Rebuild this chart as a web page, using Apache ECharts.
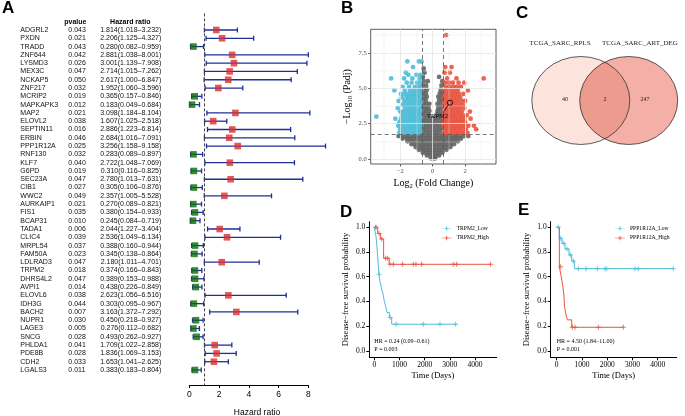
<!DOCTYPE html>
<html><head><meta charset="utf-8">
<script src="https://cdn.jsdelivr.net/npm/echarts@6.0.0/dist/echarts.min.js"></script>
<style>html,body{margin:0;padding:0;background:#fff}#c{width:685px;height:416px}</style>
</head><body><div id="c"></div>
<script>
// ---------- Panel A: forest plot data ----------
const forestGenes = ['ADGRL2','PXDN','TRADD','ZNF644','LYSMD3','MEX3C','NCKAP5','ZNF217','MCRIP2','MAPKAPK3','MAP2','ELOVL2','SEPTIN11','ERBIN','PPP1R12A','RNF130','KLF7','G6PD','SEC23A','CIB1','WWC2','AURKAIP1','FIS1','BCAP31','TADA1','CLIC4','MRPL54','FAM50A','LDLRAD3','TRPM2','DHRS4L2','AVPI1','ELOVL6','IDH3G','BACH2','NUPR1','LAGE3','SNCG','PHLDA1','PDE8B','CDH2','LGALS3'];
const forestP = [0.043,0.021,0.043,0.042,0.026,0.047,0.050,0.032,0.019,0.012,0.021,0.038,0.016,0.046,0.025,0.032,0.040,0.019,0.047,0.027,0.049,0.021,0.035,0.010,0.006,0.039,0.037,0.023,0.047,0.018,0.047,0.014,0.038,0.044,0.007,0.030,0.005,0.028,0.041,0.028,0.033,0.011];
const forestHR = [1.814,2.206,0.280,2.881,3.001,2.714,2.617,1.952,0.365,0.183,3.098,1.607,2.886,2.684,3.256,0.283,2.722,0.310,2.780,0.305,2.357,0.270,0.380,0.245,2.044,2.536,0.388,0.345,2.180,0.374,0.389,0.438,2.623,0.303,3.163,0.450,0.276,0.493,1.709,1.836,1.653,0.383];
const forestLo = [1.018,1.125,0.082,1.038,1.139,1.015,1.000,1.060,0.157,0.049,1.184,1.025,1.223,1.016,1.158,0.089,1.048,0.116,1.013,0.106,1.005,0.089,0.154,0.084,1.227,1.049,0.160,0.138,1.011,0.166,0.153,0.226,1.056,0.095,1.372,0.218,0.112,0.262,1.022,1.069,1.041,0.183];
const forestHi = [3.232,4.327,0.959,8.001,7.908,7.262,6.847,3.596,0.846,0.684,8.104,2.518,6.814,7.091,9.158,0.897,7.069,0.825,7.631,0.876,5.528,0.821,0.933,0.719,3.404,6.134,0.944,0.864,4.701,0.843,0.988,0.849,6.516,0.967,7.292,0.927,0.682,0.927,2.858,3.153,2.625,0.804];
const forestTicks = [0,2,4,6,8];
const forestRef = 1;

// ---------- Panel B: volcano data (rows: [-log10 padj, [log2FC ...]]) ----------
const greyRows = [
 [0.05,[-0.1,0.05,0.15]],
 [0.25,[-0.35,-0.15,0.05,0.25,0.4]],
 [0.45,[-0.6,-0.4,-0.2,0.0,0.2,0.4,0.6]],
 [0.65,[-0.85,-0.62,-0.4,-0.2,0.0,0.2,0.4,0.62,0.85]],
 [0.85,[-1.05,-0.82,-0.6,-0.38,-0.16,0.06,0.28,0.5,0.72,0.95,1.1]],
 [1.05,[-1.3,-1.08,-0.86,-0.64,-0.42,-0.2,0.02,0.24,0.46,0.68,0.9,1.12,1.32]],
 [1.25,[-1.55,-1.32,-1.1,-0.88,-0.66,-0.44,-0.22,0.0,0.22,0.44,0.66,0.88,1.1,1.32,1.55]],
 [1.45,[-1.85,-1.6,-1.38,-1.15,-0.92,-0.7,-0.48,-0.26,-0.04,0.18,0.4,0.62,0.84,1.06,1.28,1.5,1.75]],
 [1.62,[-2.1,-1.85,-1.62,-1.4,-1.18,-0.96,-0.74,-0.52,-0.3,-0.08,0.14,0.36,0.58,0.8,1.02,1.24,1.46,1.7,1.95,2.2]],
 [1.9,[-0.55,-0.35,-0.15,0.05,0.25,0.45]],
 [2.15,[-0.6,-0.4,-0.2,0.0,0.2,0.4,0.58]],
 [2.4,[-0.55,-0.35,-0.15,0.05,0.25,0.45]],
 [2.65,[-0.6,-0.4,-0.2,0.0,0.2,0.4,0.6]],
 [2.9,[-0.55,-0.35,-0.15,0.1,0.3,0.5]],
 [3.15,[-0.6,-0.42,-0.24,0.25,0.42,0.6]],
 [3.4,[-0.55,-0.38,-0.2,0.3,0.48]],
 [3.65,[-0.6,-0.42,-0.25,0.35,0.55]],
 [3.9,[-0.55,-0.38,-0.2,0.3,0.5]],
 [4.15,[-0.6,-0.42,0.4,0.6]],
 [4.4,[-0.55,-0.36,0.35,0.55]],
 [4.65,[-0.6,-0.42,0.45,0.6]],
 [4.9,[-0.55,-0.35,0.5]],
 [5.2,[-0.6,-0.4,0.55]],
 [5.5,[-0.55,-0.3,0.6]],
 [5.8,[-0.6,0.4]],
 [6.1,[-0.5]],
 [6.4,[-0.55]]
];
const blueRows = [
 [1.85,[-2.05,-1.85,-1.65,-1.45,-1.3,-1.15,-1.0,-0.85,-0.72]],
 [2.1,[-2.0,-1.78,-1.6,-1.42,-1.25,-1.08,-0.92,-0.78]],
 [2.35,[-2.12,-1.9,-1.7,-1.5,-1.35,-1.18,-1.02,-0.86,-0.7]],
 [2.6,[-2.05,-1.82,-1.62,-1.45,-1.28,-1.12,-0.95,-0.8]],
 [2.85,[-2.3,-1.95,-1.75,-1.55,-1.38,-1.2,-1.05,-0.9,-0.72]],
 [2.99,[-3.47]],
 [3.1,[-1.88,-1.68,-1.48,-1.3,-1.15,-0.98,-0.82]],
 [3.35,[-2.0,-1.8,-1.6,-1.42,-1.25,-1.08,-0.9,-0.74]],
 [3.6,[-2.15,-1.72,-1.52,-1.35,-1.18,-1.0,-0.84]],
 [3.85,[-1.85,-1.65,-1.45,-1.28,-1.1,-0.93,-0.76]],
 [4.1,[-2.1,-1.75,-1.55,-1.38,-1.2,-1.02,-0.86,-0.7]],
 [4.35,[-1.9,-1.62,-1.45,-1.3,-1.12,-0.95,-0.78]],
 [4.6,[-1.95,-1.7,-1.5,-1.33,-1.15,-0.98,-0.8]],
 [4.85,[-2.36,-1.72,-1.4,-1.2,-1.0,-0.82,-0.7]],
 [5.1,[-1.85,-1.45,-1.1,-0.9,-0.74]],
 [5.4,[-1.6,-1.3,-0.95,-0.78]],
 [5.7,[-2.56,-1.76,-1.25,-0.8]],
 [5.95,[-1.5,-1.0,-0.75]],
 [6.1,[-1.65]],
 [6.5,[-1.21]],
 [6.9,[-1.56,-0.85,-0.68]]
];
const redRows = [
 [1.85,[0.72,0.88,1.05,1.22,1.4,1.58,1.76,1.95,2.15]],
 [2.1,[0.78,0.95,1.12,1.3,1.48,1.66,1.85,2.05,2.69]],
 [2.35,[0.7,0.86,1.02,1.2,1.38,1.56,1.74,1.92,2.2,2.55]],
 [2.6,[0.76,0.93,1.1,1.28,1.46,1.64,1.82,2.0]],
 [2.85,[0.7,0.86,1.04,1.22,1.4,1.58,1.76,1.95,2.34]],
 [3.1,[0.78,0.95,1.12,1.3,1.48,1.66,1.85,2.1]],
 [3.35,[0.72,0.88,1.06,1.24,1.42,1.6,1.8,2.3]],
 [3.6,[0.8,0.97,1.15,1.33,1.52,1.72,1.95]],
 [3.85,[0.72,0.9,1.08,1.26,1.45,1.65,1.85]],
 [4.1,[0.8,0.98,1.16,1.35,1.55,1.78,2.0]],
 [4.35,[0.72,0.9,1.1,1.3,1.5,1.7]],
 [4.6,[0.8,1.0,1.2,1.4,1.62,1.9]],
 [4.85,[0.72,0.92,1.12,1.35,1.55,2.18]],
 [5.1,[0.82,1.05,1.28,1.5,1.75]],
 [5.4,[0.75,1.0,1.25,1.6,1.95]],
 [5.7,[0.9,1.47,3.15]],
 [6.1,[0.73,1.07]],
 [6.5,[0.78,1.17]],
 [8.76,[0.83]]
];
const volcanoLabelPoint = [1.07, 3.98];
const volcanoLabel = 'TRPM2';
const volcanoCutX = [-0.65, 0.65];
const volcanoCutY = [1.75];
const volcanoXTicks = [-2, 0, 2];
const volcanoYTicks = [0, 2.5, 5, 7.5];
const volcanoXMinor = [-3, -1, 1, 3];
const volcanoYMinor = [1.25, 3.75, 6.25, 8.75];

// ---------- Panel C: Venn ----------
const vennSets = ['TCGA_SARC_RPLS', 'TCGA_SARC_ART_DEG'];
const vennCounts = [40, 2, 247];

// ---------- Panel D: KM TRPM2 ----------
const kmDLow = [[0,1],[70,0.92],[100,0.85],[130,0.77],[160,0.69],[187,0.62],[226,0.56],[292,0.5],[358,0.45],[397,0.4],[464,0.35],[504,0.31],[597,0.27],[689,0.215],[3270,0.215]];
const kmDLowCens = [[50,1],[190,0.62],[630,0.27],[862,0.215],[1945,0.215],[2607,0.215],[3230,0.215]];
const kmDHigh = [[0,1],[135,0.95],[240,0.905],[370,0.75],[590,0.7],[4620,0.7]];
const kmDHighCens = [[70,1],[187,0.95],[292,0.905],[450,0.75],[530,0.75],[623,0.7],[755,0.7],[1126,0.7],[1550,0.7],[1656,0.7],[1880,0.7],[3135,0.7],[3270,0.7],[4620,0.7]];
const kmDNames = ['TRPM2_Low', 'TRPM2_High'];
const kmDStats = ['HR = 0.24 (0.09\u22120.61)', 'P = 0.003'];

// ---------- Panel E: KM PPP1R12A ----------
const kmELow = [[0,1],[104,0.911],[210,0.87],[330,0.824],[488,0.776],[594,0.727],[700,0.665],[4618,0.665]];
const kmELowCens = [[66,1],[157,0.911],[277,0.87],[409,0.824],[541,0.776],[660,0.727],[857,0.665],[1162,0.665],[1610,0.665],[1913,0.665],[1980,0.665],[3101,0.665],[3233,0.665],[4618,0.665]];
const kmEHigh = [[0,1],[104,0.68],[180,0.6],[224,0.546],[264,0.49],[290,0.44],[304,0.37],[356,0.3],[422,0.25],[594,0.19],[2640,0.19]];
const kmEHighCens = [[157,0.68],[620,0.19],[726,0.19],[1649,0.19],[2640,0.19]];
const kmENames = ['PPP1R12A_Low', 'PPP1R12A_High'];
const kmEStats = ['HR = 4.50 (1.84\u221211.00)', 'P = 0.001'];
const kmXTicks = [0, 1000, 2000, 3000, 4000];
const kmYTicks = [0, 0.2, 0.4, 0.6, 0.8, 1.0];

// ================= build =================
const sans = 'Liberation Sans', serif = 'Liberation Serif';
const cyan = '#4EBCD8', red = '#E9533F';
const navy = '#1F2F98', sqRed = '#DA2E2E', sqGreen = '#0B6B0B';
const rowsToPoints = rows => { const o = []; rows.forEach(r => r[1].forEach(x => o.push([x, r[0]]))); return o; };
const minus = v => (v < 0 ? '\u2212' + (-v) : String(v));
const plusIcon = 'path://M0,4.6H20V5.4H0Z M9.2,0.5H10.8V9.5H9.2Z M6.5,4.2H13.5V5.8H6.5Z';
const plusSym = 'path://M4,0H6V4H10V6H6V10H4V6H0V4H4Z';

const chart = echarts.init(document.getElementById('c'));

function kmX(grid, min, max) {
  return {gridIndex: grid, type: 'value', min: min, max: max,
    axisLine: {onZero: false, lineStyle: {color: '#000', width: 1}},
    axisTick: {length: 3, customValues: kmXTicks, lineStyle: {color: '#000', width: 1}},
    axisLabel: {customValues: kmXTicks, formatter: v => String(v), fontFamily: serif, fontSize: 7.5, color: '#000', margin: 4},
    splitLine: {show: false},
    name: 'Time (Days)', nameLocation: 'middle', nameGap: 14,
    nameTextStyle: {fontFamily: serif, fontSize: 8.5, color: '#000'}};
}
function kmY(grid) {
  return {gridIndex: grid, type: 'value', min: -0.053, max: 1.045,
    axisLine: {onZero: false, lineStyle: {color: '#000', width: 1}},
    axisTick: {length: 3, customValues: kmYTicks, lineStyle: {color: '#000', width: 1}},
    axisLabel: {customValues: kmYTicks, formatter: v => v.toFixed(1), fontFamily: serif, fontSize: 7.5, color: '#000', margin: 4},
    splitLine: {show: false},
    name: 'Disease\u2212free survival probability', nameLocation: 'middle', nameGap: 19, nameRotate: 90,
    nameTextStyle: {fontFamily: serif, fontSize: 8.5, color: '#000'}};
}
function kmSeries(ax, name, data, cens, color) {
  return [
    {type: 'line', name: name, xAxisIndex: ax, yAxisIndex: ax, data: data, step: 'end', symbol: 'none',
      lineStyle: {color: color, width: 1}, itemStyle: {color: color}, z: 3},
    {type: 'scatter', name: name + '_cens', xAxisIndex: ax, yAxisIndex: ax, data: cens, symbol: plusSym,
      symbolSize: 5, itemStyle: {color: color}, z: 4}
  ];
}
const legendBase = {orient: 'vertical', top: 225.6, itemWidth: 10, itemHeight: 5, itemGap: 3.4, padding: 0,
  selectedMode: false, icon: plusIcon, textStyle: {fontFamily: serif, fontSize: 5.6, color: '#000'}};

const gridLineData = [].concat(
  volcanoXTicks.map(v => ({xAxis: v, lineStyle: {width: 0.8}})),
  volcanoXMinor.map(v => ({xAxis: v, lineStyle: {width: 0.4}})),
  volcanoYTicks.map(v => ({yAxis: v, lineStyle: {width: 0.8}})),
  volcanoYMinor.map(v => ({yAxis: v, lineStyle: {width: 0.4}}))
);

const option = {
  animation: false,
  backgroundColor: '#fff',
  title: [
    {text: 'A', left: 2, top: 0}, {text: 'B', left: 341, top: 0}, {text: 'C', left: 516, top: 5},
    {text: 'D', left: 340, top: 203.5}, {text: 'E', left: 518, top: 202}
  ].map(t => Object.assign(t, {padding: 0, textStyle: {fontFamily: sans, fontWeight: 'bold', fontSize: 17, color: '#000'}})),
  legend: [
    Object.assign({}, legendBase, {data: kmDNames, left: 441.7}),
    Object.assign({}, legendBase, {data: kmENames, left: 615})
  ],
  grid: [
    {left: 189.3, right: 376.7, top: 13.4, bottom: 31},
    {left: 370.7, right: 189, top: 29.3, bottom: 252, show: true, borderColor: '#333', borderWidth: 0.8, backgroundColor: 'transparent'},
    {left: 510, top: 0, width: 175, height: 150},
    {left: 369.3, right: 188.3, top: 221.7, bottom: 58.7},
    {left: 550.7, right: 8.3, top: 221.7, bottom: 58.7}
  ],
  xAxis: [
    {gridIndex: 0, type: 'value', min: 0, max: 8, interval: 2,
      axisLine: {onZero: false, lineStyle: {color: '#000', width: 1}},
      axisTick: {length: 3, lineStyle: {color: '#000', width: 1}},
      axisLabel: {fontFamily: sans, fontSize: 8.5, color: '#000', margin: 5},
      splitLine: {show: false}},
    {gridIndex: 1, type: 'value', min: -3.82, max: 3.91,
      axisLine: {show: false, onZero: false},
      axisTick: {show: true, length: 2.5, customValues: volcanoXTicks, lineStyle: {color: '#333', width: 0.8}},
      axisLabel: {customValues: volcanoXTicks, formatter: minus, fontFamily: serif, fontSize: 6.5, color: '#4d4d4d', margin: 4},
      splitLine: {show: false},
      name: '{n|Log}{s|2}{n| (Fold Change)}', nameLocation: 'middle', nameGap: 13,
      nameTextStyle: {rich: {n: {fontFamily: serif, fontSize: 10, color: '#000', lineHeight: 13, verticalAlign: 'middle'},
                             s: {fontFamily: serif, fontSize: 6.5, color: '#000', verticalAlign: 'bottom'}}}},
    {gridIndex: 2, type: 'value', min: 0, max: 175, show: false},
    kmX(3, -199, 4861),
    kmX(4, -238, 4752)
  ],
  yAxis: [
    {gridIndex: 0, type: 'value', inverse: true, min: -2, max: 42.81, interval: 1,
      axisLine: {show: false, onZero: false}, axisTick: {show: false}, splitLine: {show: false},
      axisLabel: {margin: 28,
        formatter: v => {
          const i = Math.round(v);
          if (Math.abs(v - i) > 1e-6) return '';
          if (i === -1) return '{gh| }{ph|pvalue}{hh|Hazard ratio}';
          if (i < 0 || i >= forestGenes.length) return '';
          return '{g|' + forestGenes[i] + '}{p|' + forestP[i].toFixed(3) + '}{h|' +
            forestHR[i].toFixed(3) + '(' + forestLo[i].toFixed(3) + '\u2013' + forestHi[i].toFixed(3) + ')}';
        },
        rich: {
          g: {width: 48, align: 'left', fontFamily: sans, fontSize: 7, color: '#111'},
          p: {width: 31, align: 'left', fontFamily: sans, fontSize: 7, color: '#111'},
          h: {width: 62, align: 'right', fontFamily: sans, fontSize: 7, color: '#111'},
          gh: {width: 44, align: 'left', fontFamily: sans, fontSize: 7},
          ph: {width: 35, align: 'left', fontFamily: sans, fontSize: 7, fontWeight: 'bold', color: '#000'},
          hh: {width: 62, align: 'center', fontFamily: sans, fontSize: 7, fontWeight: 'bold', color: '#000'}
        }}},
    {gridIndex: 1, type: 'value', min: -0.353, max: 9.17,
      axisLine: {show: false, onZero: false},
      axisTick: {show: true, length: 2.5, customValues: volcanoYTicks, lineStyle: {color: '#333', width: 0.8}},
      axisLabel: {customValues: volcanoYTicks, formatter: v => v.toFixed(1), fontFamily: serif, fontSize: 6.5, color: '#4d4d4d', margin: 4},
      splitLine: {show: false},
      name: '{n|\u2212Log}{s|10}{n| (Padj)}', nameLocation: 'middle', nameGap: 17, nameRotate: 90,
      nameTextStyle: {rich: {n: {fontFamily: serif, fontSize: 10, color: '#000', lineHeight: 13, verticalAlign: 'middle'},
                             s: {fontFamily: serif, fontSize: 6.5, color: '#000', verticalAlign: 'bottom'}}}},
    {gridIndex: 2, type: 'value', min: 0, max: 150, inverse: true, show: false},
    kmY(3),
    kmY(4)
  ],
  graphic: [
    {type: 'text', x: 257, y: 413, style: {text: 'Hazard ratio', fontFamily: sans, fontSize: 8.5, fill: '#000',
      textAlign: 'center', align: 'center', textVerticalAlign: 'middle', verticalAlign: 'middle'}},
    {type: 'text', x: 374.3, y: 341, style: {text: kmDStats[0], fontFamily: serif, fontSize: 6, fill: '#000', textVerticalAlign: 'middle', verticalAlign: 'middle'}},
    {type: 'text', x: 374.3, y: 349.3, style: {text: kmDStats[1], fontFamily: serif, fontSize: 6, fill: '#000', textVerticalAlign: 'middle', verticalAlign: 'middle'}},
    {type: 'text', x: 556.7, y: 341, style: {text: kmEStats[0], fontFamily: serif, fontSize: 6, fill: '#000', textVerticalAlign: 'middle', verticalAlign: 'middle'}},
    {type: 'text', x: 556.7, y: 349.3, style: {text: kmEStats[1], fontFamily: serif, fontSize: 6, fill: '#000', textVerticalAlign: 'middle', verticalAlign: 'middle'}}
  ],
  series: [
    // forest CI
    {type: 'custom', xAxisIndex: 0, yAxisIndex: 0, clip: false, z: 2,
      data: forestGenes.map((g, i) => [forestLo[i], forestHi[i], i]),
      encode: {x: [0, 1], y: 2},
      renderItem: (params, api) => {
        const a = api.coord([api.value(0), api.value(2)]);
        const b = api.coord([api.value(1), api.value(2)]);
        const h = 2.5, st = {stroke: navy, lineWidth: 1.3};
        return {type: 'group', children: [
          {type: 'line', shape: {x1: a[0], y1: a[1], x2: b[0], y2: b[1]}, style: st},
          {type: 'line', shape: {x1: a[0], y1: a[1] - h, x2: a[0], y2: a[1] + h}, style: st},
          {type: 'line', shape: {x1: b[0], y1: b[1] - h, x2: b[0], y2: b[1] + h}, style: st}
        ]};
      }},
    {type: 'scatter', xAxisIndex: 0, yAxisIndex: 0, z: 3, symbol: 'rect', symbolSize: 6.6,
      data: forestGenes.map((g, i) => [forestHR[i], i]),
      itemStyle: {color: p => (p.value[0] > forestRef ? sqRed : sqGreen)},
      markLine: {silent: true, symbol: 'none', label: {show: false},
        lineStyle: {color: '#444', type: [3, 2], width: 1}, data: [{xAxis: forestRef}]}},
    // volcano grid lines
    {type: 'scatter', xAxisIndex: 1, yAxisIndex: 1, data: [], z: 1,
      markLine: {silent: true, symbol: 'none', label: {show: false}, lineStyle: {color: '#e6e6e6', type: 'solid'}, data: gridLineData}},
    {type: 'scatter', name: 'NS', xAxisIndex: 1, yAxisIndex: 1, z: 2, symbolSize: 4.8,
      data: rowsToPoints(greyRows), itemStyle: {color: '#646464', opacity: 0.9}},
    {type: 'scatter', name: 'Down', xAxisIndex: 1, yAxisIndex: 1, z: 2, symbolSize: 4.8,
      data: rowsToPoints(blueRows), itemStyle: {color: cyan, opacity: 0.9}},
    {type: 'scatter', name: 'Up', xAxisIndex: 1, yAxisIndex: 1, z: 2, symbolSize: 4.8,
      data: rowsToPoints(redRows), itemStyle: {color: red, opacity: 0.9}},
    {type: 'scatter', xAxisIndex: 1, yAxisIndex: 1, data: [], z: 4,
      markLine: {silent: true, symbol: 'none', label: {show: false}, lineStyle: {color: '#555', type: [4, 3], width: 0.8},
        data: volcanoCutX.map(v => ({xAxis: v})).concat(volcanoCutY.map(v => ({yAxis: v})))}},
    // TRPM2 annotation
    {type: 'custom', xAxisIndex: 1, yAxisIndex: 1, z: 5, clip: false,
      data: [volcanoLabelPoint], encode: {x: 0, y: 1},
      renderItem: (params, api) => {
        const p = api.coord([api.value(0), api.value(1)]);
        return {type: 'group', children: [
          {type: 'circle', shape: {cx: p[0], cy: p[1], r: 2.6}, style: {fill: 'rgba(0,0,0,0)', stroke: '#000', lineWidth: 0.8}},
          {type: 'line', shape: {x1: p[0] - 1.7, y1: p[1] + 2, x2: p[0] - 5.5, y2: p[1] + 8.2}, style: {stroke: '#000', lineWidth: 0.7}},
          {type: 'text', x: p[0] - 12.4, y: p[1] + 13.3, style: {text: volcanoLabel, fontFamily: serif, fontSize: 6.5, fill: '#000',
            textAlign: 'center', align: 'center', textVerticalAlign: 'middle', verticalAlign: 'middle'}}
        ]};
      }},
    // Venn
    {type: 'custom', xAxisIndex: 2, yAxisIndex: 2, clip: false, data: [[0]],
      renderItem: (params, api) => {
        const c1 = api.coord([70.8, 100.5]), c2 = api.coord([118.7, 100.5]);
        const sz = api.size([49, 44]);
        const rx = sz[0], ry = sz[1];
        const ell = c => 'M' + (c[0] - rx) + ' ' + c[1] + ' A' + rx + ' ' + ry + ' 0 1 0 ' + (c[0] + rx) + ' ' + c[1] +
          ' A' + rx + ' ' + ry + ' 0 1 0 ' + (c[0] - rx) + ' ' + c[1] + ' Z';
        const half = (c2[0] - c1[0]) / 2, xm = (c1[0] + c2[0]) / 2, cy = c1[1];
        const yo = ry * Math.sqrt(1 - (half / rx) * (half / rx));
        const lens = 'M' + xm + ' ' + (cy - yo) + ' A' + rx + ' ' + ry + ' 0 0 0 ' + xm + ' ' + (cy + yo) +
          ' A' + rx + ' ' + ry + ' 0 0 0 ' + xm + ' ' + (cy - yo) + ' Z';
        const t = (p, s, fs) => ({type: 'text', x: p[0], y: p[1], style: {text: String(s), fontFamily: serif, fontSize: fs, fill: '#222',
          textAlign: 'center', align: 'center', textVerticalAlign: 'middle', verticalAlign: 'middle'}});
        return {type: 'group', children: [
          {type: 'path', shape: {pathData: ell(c1)}, style: {fill: '#FCE4DD', stroke: null}},
          {type: 'path', shape: {pathData: ell(c2)}, style: {fill: '#F4AFA6', stroke: null}},
          {type: 'path', shape: {pathData: lens}, style: {fill: '#EE9B8F', stroke: null}},
          {type: 'path', shape: {pathData: ell(c1)}, style: {fill: null, stroke: '#333', lineWidth: 0.8}},
          {type: 'path', shape: {pathData: ell(c2)}, style: {fill: null, stroke: '#333', lineWidth: 0.8}},
          t(api.coord([50, 43]), vennSets[0], 7),
          t(api.coord([130, 43]), vennSets[1], 7),
          t(api.coord([55, 99.5]), vennCounts[0], 6),
          t(api.coord([95, 99.5]), vennCounts[1], 6),
          t(api.coord([135, 99.5]), vennCounts[2], 6)
        ]};
      }}
  ]
    .concat(kmSeries(3, kmDNames[0], kmDLow, kmDLowCens, cyan))
    .concat(kmSeries(3, kmDNames[1], kmDHigh, kmDHighCens, red))
    .concat(kmSeries(4, kmENames[0], kmELow, kmELowCens, cyan))
    .concat(kmSeries(4, kmENames[1], kmEHigh, kmEHighCens, red))
};
chart.setOption(option);
</script>
</body></html>
